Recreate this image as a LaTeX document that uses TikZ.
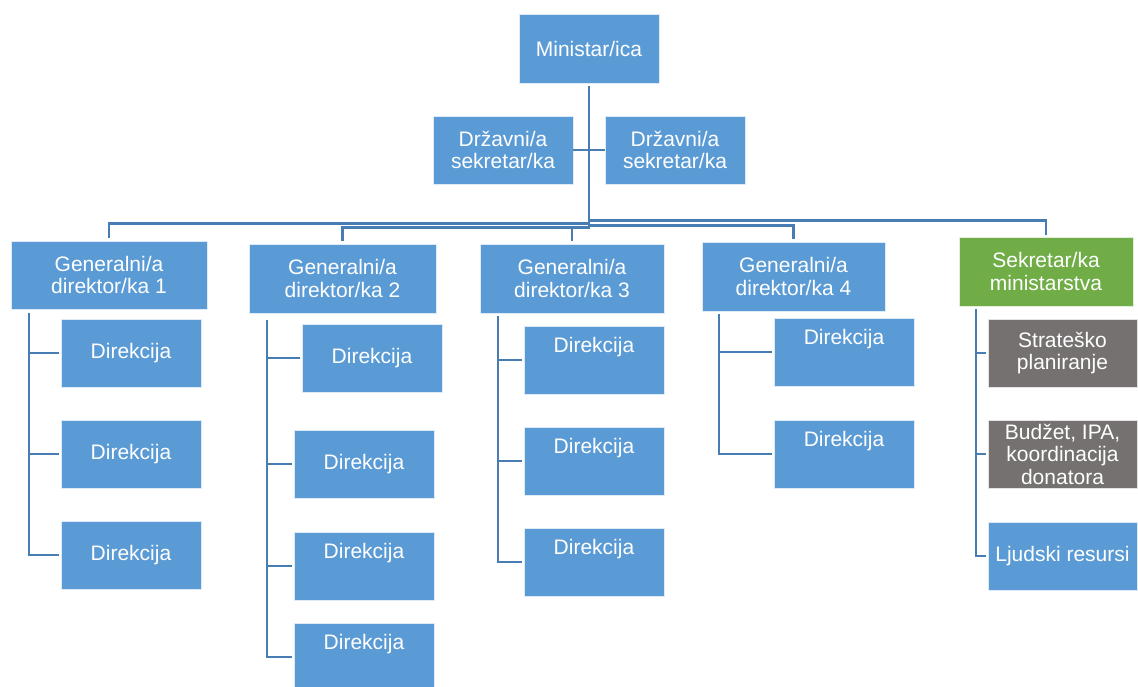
\documentclass[tikz,border=0pt]{standalone}
\usepackage{fontspec}
\setmainfont{Liberation Sans}
\definecolor{boxblue}{HTML}{5B9BD5}
\definecolor{boxgreen}{HTML}{70AD47}
\definecolor{boxgray}{HTML}{767171}
\definecolor{linkblue}{HTML}{477DB3}
\begin{document}
\begin{tikzpicture}[x=1pt,y=-1pt,
  unit/.style={rectangle, draw=white!80!boxblue, line width=0.8pt, fill=boxblue,
    text=white, font=\fontsize{21}{22.5}\selectfont, align=center, inner sep=0pt,
    minimum width=140pt, minimum height=68pt},
  greenunit/.style={unit, fill=boxgreen, draw=white!80!boxgreen},
  grayunit/.style={unit, fill=boxgray, draw=white!80!boxgray},
  toplabel/.style={anchor=north, inner sep=0pt, yshift=-11pt, text=white,
    font=\fontsize{21}{22.5}\selectfont},
  dirtop/.style={unit, label={[toplabel]north:Direkcija}},
  link/.style={draw=linkblue, line width=2.8pt, line join=miter},
  drop/.style={link, shorten >=2pt}]
\useasboundingbox (0,0) rectangle (1138,686);

% top level
\node[unit, minimum height=69pt] (min) at (589,48.5) {Ministar/ica};
\node[unit] (ds1) at (503,150) {Državni/a\\sekretar/ka};
\node[unit] (ds2) at (675,150) {Državni/a\\sekretar/ka};

% directors and secretary
\node[unit, minimum width=196pt] (gd1) at (109,275) {Generalni/a\\direktor/ka 1};
\node[unit, minimum width=187pt, minimum height=69pt] (gd2) at (342.5,278.5) {Generalni/a\\direktor/ka 2};
\node[unit, minimum width=184pt, minimum height=69pt] (gd3) at (572,278.5) {Generalni/a\\direktor/ka 3};
\node[unit, minimum width=183pt, minimum height=69pt] (gd4) at (793.5,276.5) {Generalni/a\\direktor/ka 4};
\node[greenunit, minimum width=174pt, minimum height=69pt] (sk) at (1046,271.5) {Sekretar/ka\\ministarstva};

% directorates
\node[unit] (d11) at (131,353) {Direkcija};
\node[unit] (d12) at (131,454) {Direkcija};
\node[unit] (d13) at (131,555) {Direkcija};

\node[unit] (d21) at (372,358) {Direkcija};
\node[unit] (d22) at (364,464) {Direkcija};
\node[dirtop] (d23) at (364,566) {};
\node[dirtop] (d24) at (364,657) {};

\node[dirtop] (d31) at (594,360) {};
\node[dirtop] (d32) at (594,461) {};
\node[dirtop] (d33) at (594,562) {};

\node[dirtop] (d41) at (844,352) {};
\node[dirtop] (d42) at (844,454) {};

\node[grayunit, minimum width=149pt] (s1) at (1062.5,353) {Strateško\\planiranje};
\node[grayunit, minimum width=149pt] (s2) at (1062.5,454) {Budžet, IPA,\\koordinacija\\donatora};
\node[unit, minimum width=149pt] (s3) at (1062.5,556) {Ljudski resursi};

% state secretaries
\draw[link] (ds1.east) -- (ds2.west);

% minister to the second level
\draw[link, shorten <=3pt] (min.south) |- ([yshift=17pt]gd1.north) -- ([yshift=3pt]gd1.north);
\draw[link, shorten <=3pt] (min.south) |- ([yshift=16pt]gd2.north) -- ([yshift=3pt]gd2.north);
\draw[link, shorten <=3pt] (min.south) |- ([yshift=16pt]gd3.north) -- ([yshift=3pt]gd3.north);
\draw[link, shorten <=3pt] (min.south) |- ([yshift=16pt]gd4.north) -- ([yshift=3pt]gd4.north);
\draw[link, shorten <=3pt] (min.south) |- ([yshift=16pt]sk.north) -- ([yshift=2pt]sk.north);

% directors to directorates
\foreach \d in {d11,d12,d13}
  \draw[drop] ([xshift=-80pt,yshift=-4pt]gd1.south) |- (\d.west);
\foreach \d in {d21,d22,d23,d24}
  \draw[drop] ([xshift=-75.5pt,yshift=-7pt]gd2.south) |- (\d.west);
\foreach \d in {d31,d32,d33}
  \draw[drop] ([xshift=-74pt,yshift=-3pt]gd3.south) |- (\d.west);
\foreach \d in {d41,d42}
  \draw[drop] ([xshift=-74.5pt,yshift=-3pt]gd4.south) |- (\d.west);
\foreach \d in {s1,s2,s3}
  \draw[drop] ([xshift=-70pt,yshift=-3pt]sk.south) |- (\d.west);
\end{tikzpicture}
\end{document}
